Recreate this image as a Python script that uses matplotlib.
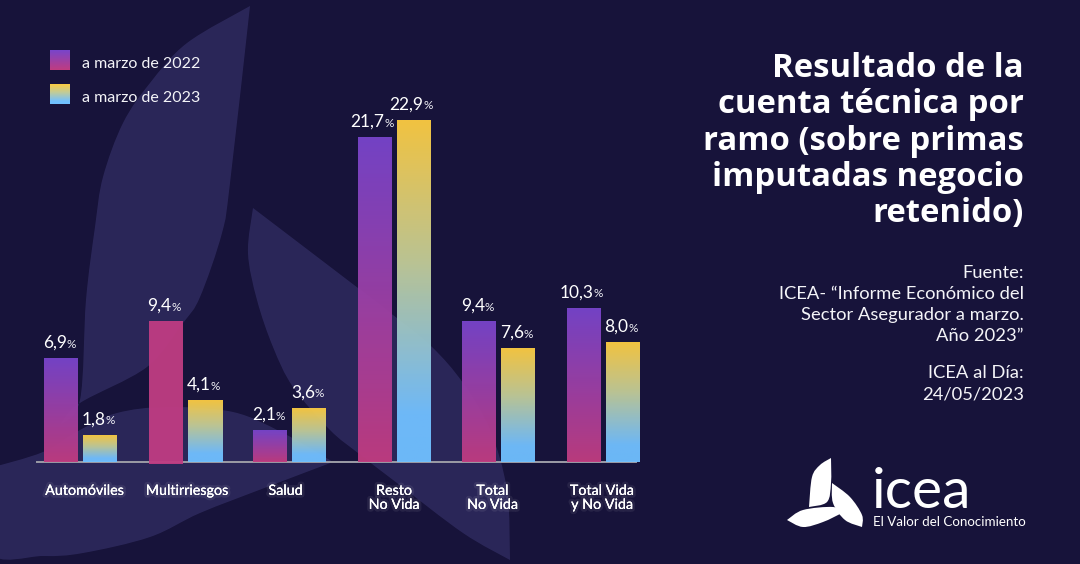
import numpy as np
import matplotlib
matplotlib.use("Agg")
import matplotlib.pyplot as plt
import matplotlib.patheffects as pe
from matplotlib.colors import LinearSegmentedColormap
from matplotlib.path import Path
from matplotlib.patches import PathPatch
from matplotlib.transforms import ScaledTranslation

categories = ["Automóviles", "Multirriesgos", "Salud", "Resto\nNo Vida", "Total\nNo Vida", "Total Vida\ny No Vida"]
values_2022 = [6.9, 9.4, 2.1, 21.7, 9.4, 10.3]
values_2023 = [1.8, 4.1, 3.6, 22.9, 7.6, 8.0]
series_names = ["a marzo de 2022", "a marzo de 2023"]
title_lines = ["Resultado de la", "cuenta técnica por", "ramo (sobre primas", "imputadas negocio", "retenido)"]
source_lines = ["Fuente:", "ICEA- “Informe Económico del", "Sector Asegurador a marzo.", "Año 2023”"]
date_lines = ["ICEA al Día:", "24/05/2023"]

plt.rcParams["font.family"] = ["Lato", "DejaVu Sans"]
BG = "#17133A"
W, H = 1080, 564
fig = plt.figure(figsize=(W / 100, H / 100), dpi=100, facecolor=BG)

# decoration layer in pixel coordinates
deco = fig.add_axes([0, 0, 1, 1], zorder=0)
deco.set_xlim(0, W); deco.set_ylim(H, 0); deco.axis("off")

def smooth(points):
    """Catmull-Rom style outline; corners are kept at listed tips."""
    verts, codes = [points[0]], [Path.MOVETO]
    p = np.array(points, float)
    n = len(p)
    for i in range(n - 1):
        p0 = p[max(i - 1, 0)]; p1 = p[i]; p2 = p[i + 1]; p3 = p[min(i + 2, n - 1)]
        c1 = p1 + (p2 - p0) / 6; c2 = p2 - (p3 - p1) / 6
        verts += [tuple(c1), tuple(c2), tuple(p2)]
        codes += [Path.CURVE4] * 3
    return verts, codes

def leaf(side_a, side_b, **kw):
    v1, c1 = smooth(side_a)
    v2, c2 = smooth(side_b)
    verts = v1 + v2[1:] + [side_a[0]]
    codes = c1 + c2[1:] + [Path.CLOSEPOLY]
    deco.add_patch(PathPatch(Path(verts, codes), lw=0, **kw))

shape = dict(facecolor="#7B77D5", alpha=0.2)
leaf([(250, 6), (187, 43), (150, 83), (123, 123), (103, 177), (95, 227), (86, 300), (80, 400), (60, 425)],
     [(60, 425), (80, 403), (147, 367), (183, 323), (200, 297), (222, 233), (230, 183), (250, 6)], **shape)
leaf([(253, 208), (248, 253), (257, 300), (273, 347), (293, 387), (330, 430), (358, 453), (397, 483), (463, 533), (510, 560)],
     [(510, 560), (507, 490), (490, 430), (463, 383), (432, 347), (393, 315), (358, 288), (253, 208)], **shape)
leaf([(-10, 468), (43, 452), (80, 430), (117, 413), (167, 407), (233, 412), (283, 433), (333, 462)],
     [(333, 462), (267, 487), (200, 513), (150, 537), (83, 553), (43, 556), (-10, 552), (-10, 468)], **shape)

# logo
white = dict(facecolor="white")
leaf([(831, 458), (820, 465), (812, 477), (809, 507)], [(809, 507), (827, 502), (831, 483), (831, 458)], **white)
leaf([(832, 483), (850, 497), (862, 515), (862, 527)], [(862, 527), (845, 520), (833, 503), (832, 483)], **white)
leaf([(787, 520), (803, 510), (833, 507), (842, 513)], [(842, 513), (823, 522), (803, 527), (787, 520)], **white)
deco.text(872, 508, "icea", color="white", fontsize=41, ha="left", va="baseline")
deco.text(873, 526, "El Valor del Conocimiento", color="white", fontsize=9.6, ha="left", va="baseline")

# text on the right
for i, line in enumerate(title_lines):
    deco.text(1024, 77 + 36.3 * i, line, color="white", fontsize=23.7, fontweight="bold",
              family=["Open Sans", "DejaVu Sans"], ha="right", va="baseline")
for i, line in enumerate(source_lines):
    deco.text(1024, 278 + 21 * i, line, color="#F4F4F8", fontsize=13.25, ha="right", va="baseline")
for i, line in enumerate(date_lines):
    deco.text(1024, 378 + 21 * i, line, color="#F4F4F8", fontsize=13.25, ha="right", va="baseline")

cmap_a = LinearSegmentedColormap.from_list("a", [(0, "#C03C80"), (1, "#7845CB")])
cmap_b = LinearSegmentedColormap.from_list("b", [(0, "#70C0FF"), (0.14, "#72C0FF"), (0.6, "#C4CC95"), (1, "#FCCB42")])
ramp = np.linspace(1, 0, 128).reshape(-1, 1)

# legend
for ytop, name, cm in zip((50.5, 85), series_names, (cmap_a, cmap_b)):
    deco.imshow(ramp, cmap=cm, extent=(49.5, 69.5, ytop + 19.5, ytop), aspect="auto", vmin=0, vmax=1, zorder=3)
    deco.text(82, ytop + 17, name, color="#F4F4F8", fontsize=11.5, ha="left", va="baseline", zorder=3)
deco.set_xlim(0, W); deco.set_ylim(H, 0)

# chart layer: y=0 at pixel row 462, y=22.9 at row 120
ax = fig.add_axes([0, (H - 462) / H, 1, 342 / H], zorder=1)
ax.patch.set_alpha(0)
x = np.arange(len(categories))
group_step, group_px = 104.5, 80.5
bar_w, off = 34 / group_step, 19.5 / group_step
bars_a = ax.bar(x - off, values_2022, bar_w, color="none")
bars_b = ax.bar(x + off, values_2023, bar_w, color="none")

def paint(rect, cm, bottom=None, solid=None):
    bx, by, w, h = rect.get_x(), rect.get_y(), rect.get_width(), rect.get_height()
    y0 = by if bottom is None else bottom
    img = ramp if solid is None else np.full_like(ramp, solid)
    ax.imshow(img, cmap=cm, extent=(bx, bx + w, y0, by + h), aspect="auto", vmin=0, vmax=1,
              alpha=0.96, zorder=3, clip_on=False)

for i, r in enumerate(bars_a):
    if i == 1:  # Multirriesgos is drawn flat pink in the source, dipping under the axis
        paint(r, cmap_a, bottom=-0.14, solid=0.03)
    else:
        paint(r, cmap_a)
for r in bars_b:
    paint(r, cmap_b)

def value_label(rect, v):
    cx = rect.get_x() + rect.get_width() / 2
    s = f"{v:.1f}".replace(".", ",")
    dx = 4.3 + 2.9 * (len(s) - 3)
    ax.annotate(s, (cx, v), xytext=(dx, 7.8), textcoords="offset points", color="white",
                fontsize=12.5, ha="right", va="baseline", annotation_clip=False, zorder=4)
    ax.annotate("%", (cx, v), xytext=(dx - 0.3, 7.8), textcoords="offset points", color="#F0F0F5",
                fontsize=8.5, ha="left", va="baseline", annotation_clip=False, zorder=4)

for r, v in zip(bars_a, values_2022):
    value_label(r, v)
for r, v in zip(bars_b, values_2023):
    value_label(r, v)

ax.set_xlim(-group_px / group_step, (W - group_px) / group_step)
ax.set_ylim(0, 22.9)
ax.set_yticks([])
ax.set_xticks(x)
ax.set_xticklabels(categories, color="white", fontsize=10.3, linespacing=1.2)
ax.tick_params(axis="x", length=0, pad=16.5)
for s in ("top", "left", "right"):
    ax.spines[s].set_visible(False)
ax.spines["bottom"].set_color("#9C9CA6")
ax.spines["bottom"].set_linewidth(1.4)
ax.spines["bottom"].set_bounds((37 - group_px) / group_step, (636 - group_px) / group_step)
ax.spines["bottom"].set_zorder(1)

label_dx = [4, 2, -4, 0, -6, -1]
glow = [pe.withStroke(linewidth=4, foreground=(1, 1, 1, 0.07)), pe.Normal()]
for lab, dx in zip(ax.get_xticklabels(), label_dx):
    lab.set_transform(lab.get_transform() + ScaledTranslation(dx / 100, 0, fig.dpi_scale_trans))
    lab.set_path_effects(glow)

fig.savefig("out.png", dpi=100, facecolor=BG)
